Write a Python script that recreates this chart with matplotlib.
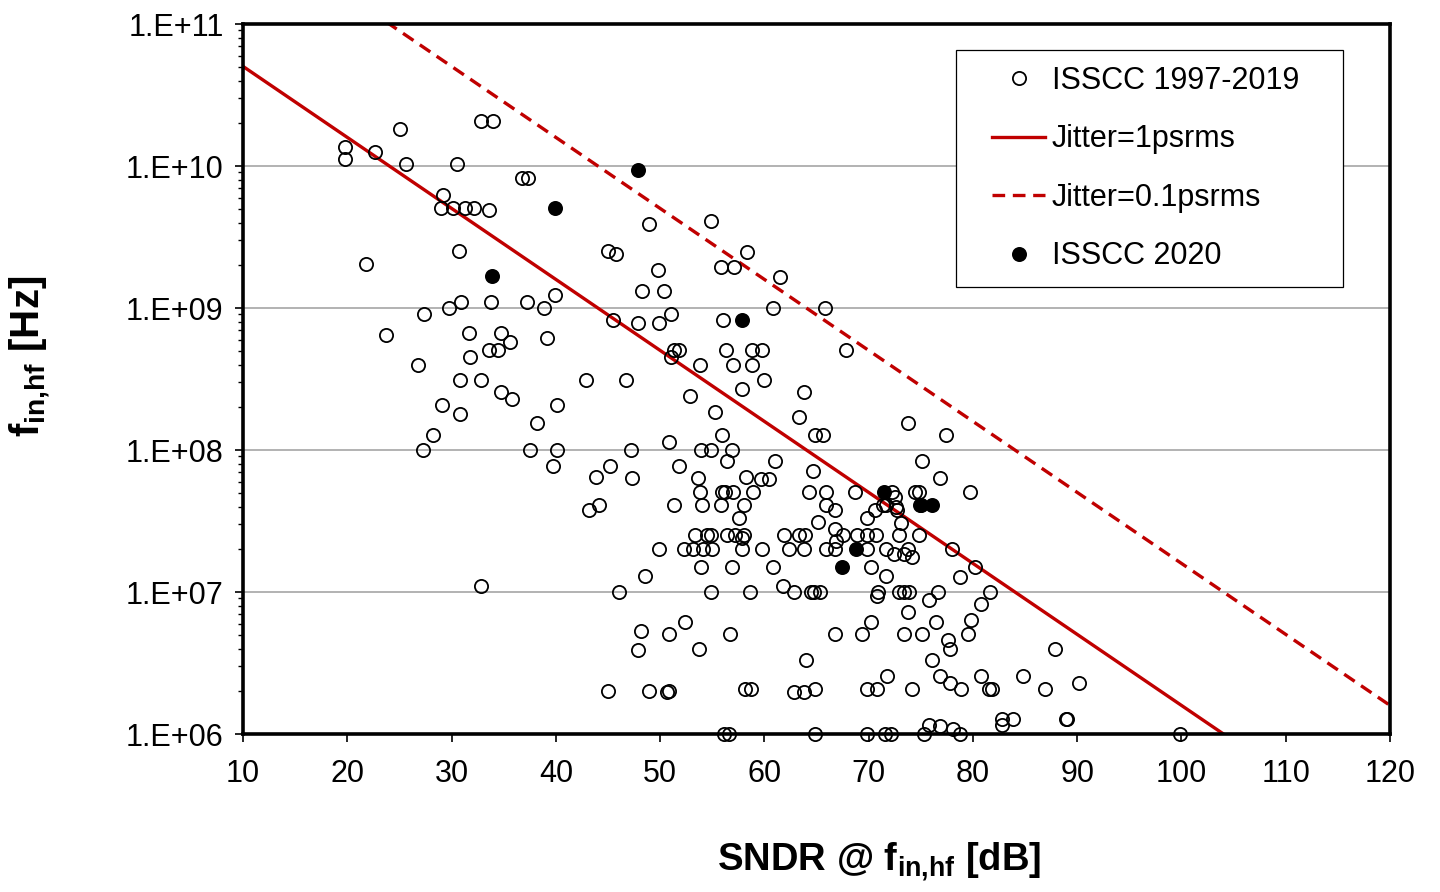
import matplotlib
matplotlib.use("Agg")
import matplotlib.pyplot as plt
from matplotlib.patches import Rectangle

plt.rcParams['font.family'] = ['Liberation Sans', 'DejaVu Sans']
plt.rcParams['mathtext.fontset'] = 'custom'
plt.rcParams['mathtext.rm'] = 'Liberation Sans'
plt.rcParams['mathtext.bf'] = 'Liberation Sans:bold'
plt.rcParams['mathtext.it'] = 'Liberation Sans:italic'

# ISSCC 1997-2019 (SNDR in dB, fin,hf in Hz)
sndr_old = [
    25.1, 19.8, 19.8, 22.7, 25.6, 30.5, 32.8, 34.0, 36.8, 37.3,
    29.2, 29.0, 30.1, 31.3, 32.2, 33.6, 30.7, 21.8, 45.0, 45.8,
    30.9, 29.8, 33.8, 37.2, 38.9, 39.9, 27.4, 23.7, 31.7, 34.7,
    35.6, 39.2, 45.5, 48.9, 54.9, 49.8, 58.3, 55.8, 57.1, 61.5,
    48.3, 50.4, 60.8, 65.8, 47.9, 49.9, 51.0, 56.0, 51.3, 51.8,
    51.0, 56.3, 58.8, 59.8, 67.8, 53.8, 57.0, 58.8, 46.7, 60.0,
    57.9, 63.8, 33.6, 34.5, 31.8, 26.8, 30.8, 32.8, 42.9, 34.7,
    35.8, 29.1, 30.8, 40.1, 38.2, 28.2, 27.3, 37.5, 40.1, 39.7,
    45.2, 43.9, 44.1, 43.2, 32.8, 52.9, 55.3, 63.3, 64.9, 65.6,
    47.2, 50.9, 53.9, 54.9, 56.9, 55.9, 56.4, 61.0, 51.8, 47.3,
    53.6, 58.2, 59.7, 60.4, 64.7, 53.8, 55.9, 56.2, 57.0, 58.9,
    64.3, 65.9, 68.7, 51.3, 54.0, 55.8, 58.0, 65.9, 66.8, 57.6,
    65.1, 69.8, 70.6, 71.4, 53.3, 54.5, 54.9, 56.4, 57.2, 58.0,
    57.9, 61.9, 63.3, 63.9, 66.8, 67.5, 66.9, 68.9, 69.8, 70.7,
    49.9, 52.3, 53.2, 54.1, 55.0, 57.9, 59.8, 62.4, 63.8, 65.9,
    66.8, 69.8, 71.7, 53.9, 56.9, 60.8, 70.2, 48.6, 71.7, 73.8,
    77.4, 75.1, 76.8, 79.7, 72.2, 74.4, 74.8, 72.5, 74.9, 71.7,
    72.7, 72.6, 73.1, 72.9, 74.8, 72.4, 73.4, 73.8, 74.2, 78.0,
    80.2, 78.8, 46.1, 48.2, 50.9, 52.4, 47.9, 53.7, 45.0, 48.9,
    50.9, 50.7, 54.9, 58.6, 61.8, 62.8, 64.5, 64.8, 65.3, 70.9,
    70.8, 72.9, 73.4, 73.9, 76.7, 75.8, 80.8, 81.6, 73.8, 56.7,
    66.8, 69.4, 70.2, 73.4, 75.1, 76.5, 77.6, 77.8, 79.5, 79.8,
    64.0, 76.1, 71.8, 76.8, 77.8, 78.9, 80.8, 81.5, 58.1, 58.7,
    62.8, 63.8, 64.9, 69.8, 70.8, 74.2, 56.1, 56.6, 64.9, 69.8,
    71.6, 72.1, 75.3, 75.8, 76.8, 78.1, 78.8, 87.9, 84.8, 90.2,
    81.8, 86.9, 82.8, 83.8, 82.8, 88.9, 89.0, 99.9,
]
fin_old = [
    1.82e10, 1.35e10, 1.12e10, 1.25e10, 1.03e10, 1.03e10, 2.07e10, 2.07e10, 8.2e9, 8.2e9,
    6.2e9, 5.1e9, 5.1e9, 5.1e9, 5.1e9, 4.9e9, 2.5e9, 2.04e9, 2.5e9, 2.4e9,
    1.11e9, 1.0e9, 1.11e9, 1.11e9, 1.0e9, 1.24e9, 9.0e8, 6.45e8, 6.7e8, 6.7e8,
    5.8e8, 6.15e8, 8.2e8, 3.9e9, 4.1e9, 1.85e9, 2.47e9, 1.94e9, 1.94e9, 1.65e9,
    1.32e9, 1.32e9, 1.0e9, 1.0e9, 7.8e8, 7.8e8, 9.0e8, 8.2e8, 5.1e8, 5.1e8,
    4.5e8, 5.1e8, 5.1e8, 5.1e8, 5.1e8, 4.0e8, 4.0e8, 4.0e8, 3.1e8, 3.1e8,
    2.7e8, 2.56e8, 5.1e8, 5.1e8, 4.55e8, 4.0e8, 3.1e8, 3.1e8, 3.1e8, 2.56e8,
    2.3e8, 2.07e8, 1.78e8, 2.07e8, 1.55e8, 1.28e8, 1.0e8, 1.0e8, 1.0e8, 7.7e7,
    7.7e7, 6.5e7, 4.1e7, 3.8e7, 1.1e7, 2.4e8, 1.86e8, 1.7e8, 1.28e8, 1.28e8,
    1.0e8, 1.13e8, 1.0e8, 1.0e8, 1.0e8, 1.28e8, 8.3e7, 8.3e7, 7.7e7, 6.3e7,
    6.3e7, 6.5e7, 6.2e7, 6.2e7, 7.15e7, 5.1e7, 5.1e7, 5.1e7, 5.1e7, 5.1e7,
    5.1e7, 5.1e7, 5.1e7, 4.1e7, 4.1e7, 4.1e7, 4.1e7, 4.1e7, 3.8e7, 3.3e7,
    3.1e7, 3.3e7, 3.8e7, 4.1e7, 2.5e7, 2.5e7, 2.5e7, 2.5e7, 2.5e7, 2.5e7,
    2.4e7, 2.5e7, 2.5e7, 2.5e7, 2.8e7, 2.5e7, 2.3e7, 2.5e7, 2.5e7, 2.5e7,
    2.0e7, 2.0e7, 2.0e7, 2.0e7, 2.0e7, 2.0e7, 2.0e7, 2.0e7, 2.0e7, 2.0e7,
    2.0e7, 2.0e7, 2.0e7, 1.5e7, 1.5e7, 1.5e7, 1.5e7, 1.3e7, 1.3e7, 1.55e8,
    1.28e8, 8.3e7, 6.3e7, 5.1e7, 5.1e7, 5.1e7, 5.1e7, 4.7e7, 4.1e7, 4.1e7,
    3.75e7, 4.0e7, 3.06e7, 2.5e7, 2.5e7, 1.85e7, 1.85e7, 2.0e7, 1.75e7, 2.0e7,
    1.5e7, 1.28e7, 1.0e7, 5.3e6, 5.1e6, 6.1e6, 3.9e6, 4.0e6, 2.0e6, 2.0e6,
    2.0e6, 1.96e6, 1.0e7, 1.0e7, 1.1e7, 1.0e7, 1.0e7, 1.0e7, 1.0e7, 1.0e7,
    9.3e6, 1.0e7, 1.0e7, 1.0e7, 1.0e7, 8.8e6, 8.2e6, 1.0e7, 7.2e6, 5.1e6,
    5.1e6, 5.1e6, 6.1e6, 5.1e6, 5.1e6, 6.1e6, 4.6e6, 4.0e6, 5.1e6, 6.4e6,
    3.3e6, 3.3e6, 2.56e6, 2.56e6, 2.27e6, 2.06e6, 2.56e6, 2.06e6, 2.06e6, 2.06e6,
    1.96e6, 1.96e6, 2.06e6, 2.06e6, 2.06e6, 2.06e6, 1.0e6, 1.0e6, 1.0e6, 1.0e6,
    1.0e6, 1.0e6, 1.0e6, 1.15e6, 1.14e6, 1.09e6, 1.0e6, 4.0e6, 2.56e6, 2.27e6,
    2.06e6, 2.06e6, 1.28e6, 1.28e6, 1.15e6, 1.28e6, 1.28e6, 1.0e6,
]

# ISSCC 2020
sndr_2020 = [47.9, 39.9, 33.9, 57.9, 71.5, 75.0, 76.1, 68.8, 67.4]
fin_2020 = [9.3e9, 5.1e9, 1.69e9, 8.2e8, 5.1e7, 4.1e7, 4.1e7, 2.0e7, 1.5e7]

# jitter limit lines (end points)
line_sndr = [10, 120]
jitter_1ps = [5.03e10, 1.59e5]
jitter_01ps = [5.03e11, 1.59e6]

yticks = [1e6, 1e7, 1e8, 1e9, 1e10, 1e11]
ytick_labels = ['1.E+06', '1.E+07', '1.E+08', '1.E+09', '1.E+10', '1.E+11']
xticks = list(range(10, 121, 10))

red = '#C00000'

fig = plt.figure(figsize=(14.4, 8.92), dpi=100)
ax = fig.add_axes([243 / 1440, 1 - 734 / 892, 1147 / 1440, 710 / 892])

ax.plot(sndr_old, fin_old, 'o', ls='none', mfc='none', mec='black', ms=9.5, mew=1.3,
        clip_on=False, zorder=3, label='ISSCC 1997-2019')
ax.plot(line_sndr, jitter_1ps, '-', color=red, lw=2.4, zorder=2, label='Jitter=1psrms')
ax.plot(line_sndr, jitter_01ps, '--', color=red, lw=2.4, dashes=(3.8, 2.3), zorder=2,
        label='Jitter=0.1psrms')
ax.plot(sndr_2020, fin_2020, 'o', ls='none', mfc='black', mec='black', ms=9.5, mew=1.3,
        clip_on=False, zorder=4, label='ISSCC 2020')

ax.set_yscale('log')
ax.set_xlim(10, 120)
ax.set_ylim(1e6, 1e11)
ax.set_yticks(yticks)
ax.set_yticklabels(ytick_labels)
ax.set_xticks(xticks)
ax.set_xticklabels([str(v) for v in xticks])

ax.grid(axis='y', which='major', color='#a6a6a6', lw=1.2)
ax.set_axisbelow(True)
for s in ax.spines.values():
    s.set_linewidth(2.6)
    s.set_color('black')

ax.tick_params(axis='both', which='major', direction='out', length=6, width=1.2,
               labelsize=22, color='black')
ax.tick_params(axis='x', which='major', pad=12)
ax.tick_params(axis='y', which='major', pad=8)
ax.tick_params(axis='y', which='minor', direction='out', length=3.5, width=1.0)
ax.tick_params(axis='x', which='minor', bottom=False)

ax.set_xlabel(r'SNDR @ $\mathbf{f_{in{,}hf}}$ [dB]', fontsize=27.5, fontweight='bold')
ax.xaxis.label.set_va('center')
ax.xaxis.set_label_coords((879 - 243) / 1147, (734 - 862) / 710)
ax.set_ylabel(r'$\mathbf{f_{in{,}hf}}$ [Hz]', fontsize=29, fontweight='bold')
ax.yaxis.label.set_va('center')
ax.yaxis.set_label_coords((30 - 243) / 1147, (734 - 356) / 710)

# legend box drawn as a separate frame so the inner padding matches
ax.add_patch(Rectangle((956 / 1440, 1 - 287 / 892), 387 / 1440, 237 / 892,
                       transform=fig.transFigure, facecolor='white',
                       edgecolor='black', lw=0.9, zorder=8, clip_on=False))
leg = ax.legend(loc='upper left', bbox_to_anchor=(992 / 1440, 1 - 66 / 892),
                bbox_transform=fig.transFigure, frameon=False, fontsize=22,
                borderpad=0, borderaxespad=0, handlelength=1.75, handletextpad=0.2,
                labelspacing=0.93, numpoints=1)
leg.set_zorder(10)

fig.savefig('out.png', dpi=100)
